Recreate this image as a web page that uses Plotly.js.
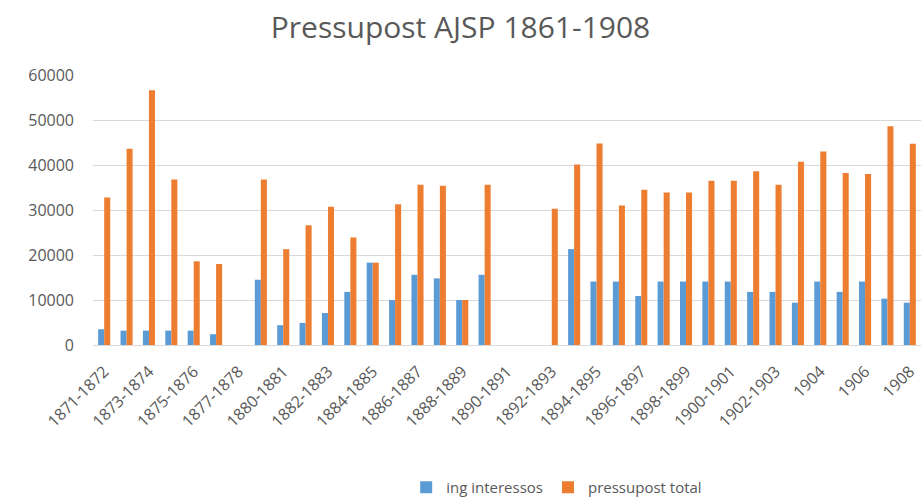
<!DOCTYPE html>
<html>
<head>
<meta charset="utf-8">
<script src="https://cdn.plot.ly/plotly-3.0.1.min.js"></script>
<style>html,body{margin:0;padding:0;background:#fff;}#chart{width:921px;height:504px;}</style>
</head>
<body>
<div id="chart"></div>
<script>
var categories = [
  "1871-1872","1872-1873","1873-1874","1874-1875","1875-1876","1876-1877",
  "1877-1878","1878-1879","1880-1881","1881-1882","1882-1883","1883-1884",
  "1884-1885","1885-1886","1886-1887","1887-1888","1888-1889","1889-1890",
  "1890-1891","1891-1892","1892-1893","1893-1894","1894-1895","1895-1896",
  "1896-1897","1897-1898","1898-1899","1899-1900","1900-1901","1901-1902",
  "1902-1903","1903","1904","1905","1906","1907","1908"
];
var ingInteressos = [
  3500, 3200, 3200, 3200, 3200, 2400,
  null, 14500, 4400, 4900, 7100, 11800,
  18300, 10000, 15600, 14800, 10000, 15600,
  null, null, null, 21300, 14100, 14100,
  10900, 14100, 14100, 14100, 14100, 11800,
  11800, 9400, 14100, 11800, 14100, 10300, 9400
];
var pressupostTotal = [
  32800, 43600, 56600, 36800, 18600, 18000,
  null, 36800, 21300, 26600, 30700, 23900,
  18300, 31300, 35600, 35400, 10000, 35600,
  null, null, 30300, 40100, 44800, 31000,
  34500, 33900, 33900, 36500, 36500, 38600,
  35600, 40700, 43000, 38200, 38000, 48600, 44700
];
var tickLabels = [
  "1871-1872","1873-1874","1875-1876","1877-1878","1880-1881","1882-1883",
  "1884-1885","1886-1887","1888-1889","1890-1891","1892-1893","1894-1895",
  "1896-1897","1898-1899","1900-1901","1902-1903","1904","1906","1908"
];

var FONT = "Open Sans, Noto Sans, sans-serif";
var traces = [
  {type:"bar", name:"ing interessos", x:categories, y:ingInteressos,
   marker:{color:"#5b9bd5"}},
  {type:"bar", name:"pressupost total", x:categories, y:pressupostTotal,
   marker:{color:"#ed7d31"}}
];
var layout = {
  width:921, height:504,
  paper_bgcolor:"#ffffff", plot_bgcolor:"#ffffff",
  font:{family:FONT, color:"#595959", size:14},
  title:{text:"Pressupost AJSP 1861-1908", x:0.5, xanchor:"center", y:0.945, yanchor:"middle",
         font:{family:FONT, size:30, color:"#595959"}},
  margin:{l:93, r:0, t:75, b:158, pad:0},
  barmode:"group", bargap:0.46, bargroupgap:0.0,
  showlegend:true,
  legend:{orientation:"h", x:0.56, xanchor:"center", y:-0.53, yanchor:"middle",
          font:{family:FONT, size:15, color:"#595959"}, itemwidth:30},
  xaxis:{type:"category", categoryorder:"array", categoryarray:categories,
         tickmode:"array", tickvals:tickLabels, ticktext:tickLabels,
         tickangle:-45, tickfont:{family:FONT, size:16, color:"#595959"},
         ticklabelstandoff:13,
         showgrid:false, showline:false, ticks:"", zeroline:false,
         range:[-0.5, 36.5]},
  yaxis:{range:[0,60000], dtick:10000, tick0:0, showgrid:true, gridcolor:"#d9d9d9", gridwidth:1,
         zeroline:true, zerolinecolor:"#d9d9d9", zerolinewidth:1, showline:false,
         ticks:"", ticklabelstandoff:18, tickformat:"d",
         tickfont:{family:FONT, size:16, color:"#595959"}}
};
Plotly.newPlot("chart", traces, layout, {displayModeBar:false, staticPlot:true});
</script>
</body>
</html>
